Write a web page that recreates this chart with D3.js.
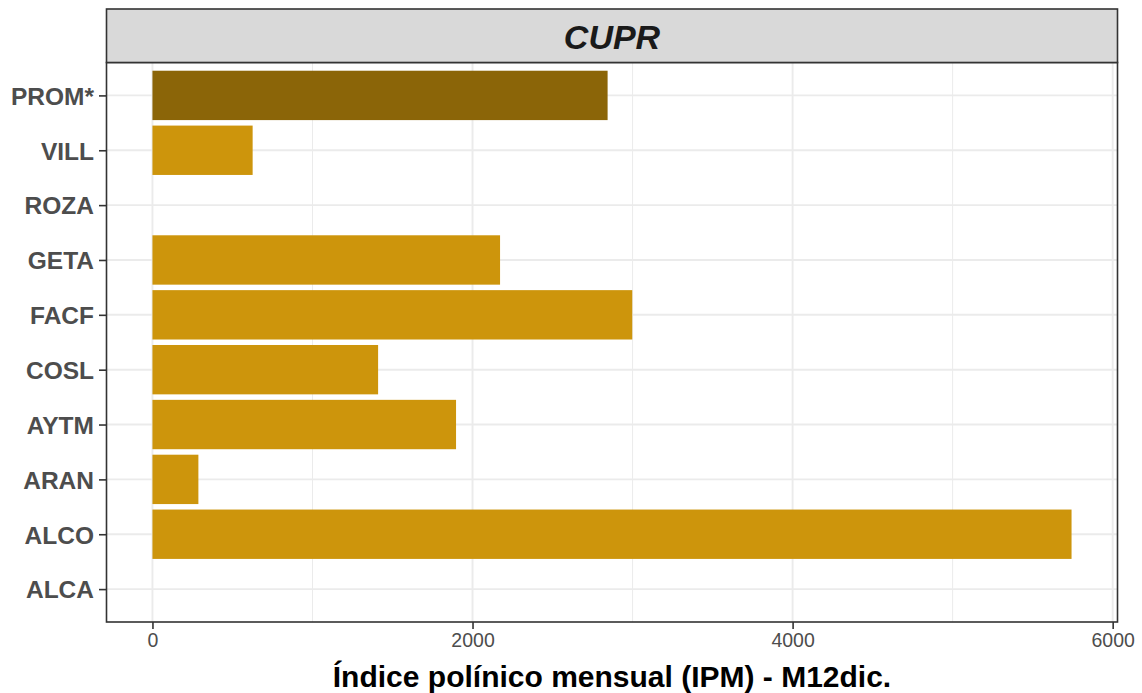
<!DOCTYPE html>
<html>
<head>
<meta charset="utf-8">
<script src="https://cdn.jsdelivr.net/npm/d3@7"></script>
<style>
html,body{margin:0;padding:0;background:#fff;}
svg{display:block;font-family:"Liberation Sans",Arial,Helvetica,sans-serif;}
</style>
</head>
<body>
<svg id="chart" width="1142" height="693"></svg>
<script>
// Data (top to bottom as displayed)
const categories = ["PROM*", "VILL", "ROZA", "GETA", "FACF", "COSL", "AYTM", "ARAN", "ALCO", "ALCA"];
const values     = [2844,    626,    0,      2172,   2998,   1410,   1897,   287,    5743,   0];
const isAverage  = [true,    false,  false,  false,  false,  false,  false,  false,  false,  false];
const xTicks     = [0, 2000, 4000, 6000];
const xMinorTicks = [1000, 3000, 5000];
const panelTitle = "CUPR";
const xTitle = "Índice polínico mensual (IPM) - M12dic.";

const svg = d3.select("#chart");
const P = {left: 106.5, right: 1117.5, top: 62.5, bottom: 622, stripTop: 9};

const maxV = d3.max(values);
const x = d3.scaleLinear()
  .domain([-0.05 * maxV, maxV * 1.05])
  .range([P.left, P.right]);
const y = d3.scalePoint()
  .domain(categories)
  .range([P.top, P.bottom])
  .padding(0.6);
const barH = y.step() * 0.9;

// panel background
svg.append("rect").attr("x", P.left).attr("y", P.top)
  .attr("width", P.right - P.left).attr("height", P.bottom - P.top)
  .attr("fill", "#fff");

// gridlines
const grid = svg.append("g");
grid.selectAll("line.minor").data(xMinorTicks).enter().append("line")
  .attr("x1", d => x(d)).attr("x2", d => x(d))
  .attr("y1", P.top).attr("y2", P.bottom)
  .attr("stroke", "#EBEBEB").attr("stroke-width", 1);
grid.selectAll("line.majx").data(xTicks).enter().append("line")
  .attr("x1", d => x(d)).attr("x2", d => x(d))
  .attr("y1", P.top).attr("y2", P.bottom)
  .attr("stroke", "#EBEBEB").attr("stroke-width", 1.9);
grid.selectAll("line.majy").data(categories).enter().append("line")
  .attr("x1", P.left).attr("x2", P.right)
  .attr("y1", d => y(d)).attr("y2", d => y(d))
  .attr("stroke", "#EBEBEB").attr("stroke-width", 1.9);

// bars
svg.append("g").selectAll("rect").data(categories).enter().append("rect")
  .attr("x", x(0))
  .attr("y", d => y(d) - barH / 2)
  .attr("width", (d, i) => Math.max(0, x(values[i]) - x(0)))
  .attr("height", barH)
  .attr("fill", (d, i) => isAverage[i] ? "#8B6508" : "#CD950C");

// panel border
svg.append("rect").attr("x", P.left).attr("y", P.top)
  .attr("width", P.right - P.left).attr("height", P.bottom - P.top)
  .attr("fill", "none").attr("stroke", "#333333").attr("stroke-width", 1.6);

// strip
svg.append("rect").attr("x", P.left).attr("y", P.stripTop)
  .attr("width", P.right - P.left).attr("height", P.top - P.stripTop)
  .attr("fill", "#D9D9D9").attr("stroke", "#333333").attr("stroke-width", 1.6);
svg.append("text")
  .attr("x", (P.left + P.right) / 2).attr("y", 49)
  .attr("text-anchor", "middle")
  .attr("font-size", "34px").attr("font-weight", "bold").attr("font-style", "italic")
  .attr("fill", "#1A1A1A")
  .text(panelTitle);

// y axis
const yAxis = svg.append("g")
  .attr("transform", `translate(${P.left},0)`)
  .call(d3.axisLeft(y).tickSize(7.5).tickPadding(5));
yAxis.select(".domain").remove();
yAxis.selectAll(".tick line").attr("stroke", "#333333").attr("stroke-width", 1.6);
yAxis.selectAll(".tick text")
  .attr("font-family", "Liberation Sans, Arial, sans-serif")
  .attr("font-size", "24.5px").attr("font-weight", "bold").attr("fill", "#4D4D4D")
  .attr("dy", "0.36em");

// x axis
const xAxis = svg.append("g")
  .attr("transform", `translate(0,${P.bottom})`)
  .call(d3.axisBottom(x).tickValues(xTicks).tickFormat(d3.format("d")).tickSize(7).tickPadding(4));
xAxis.select(".domain").remove();
xAxis.selectAll(".tick line").attr("stroke", "#333333").attr("stroke-width", 1.6);
xAxis.selectAll(".tick text")
  .attr("font-family", "Liberation Sans, Arial, sans-serif")
  .attr("font-size", "19.5px").attr("fill", "#4D4D4D");

// x title
svg.append("text")
  .attr("x", (P.left + P.right) / 2).attr("y", 686.5)
  .attr("text-anchor", "middle")
  .attr("font-size", "30px").attr("font-weight", "bold").attr("fill", "#000")
  .text(xTitle);
</script>
</body>
</html>
